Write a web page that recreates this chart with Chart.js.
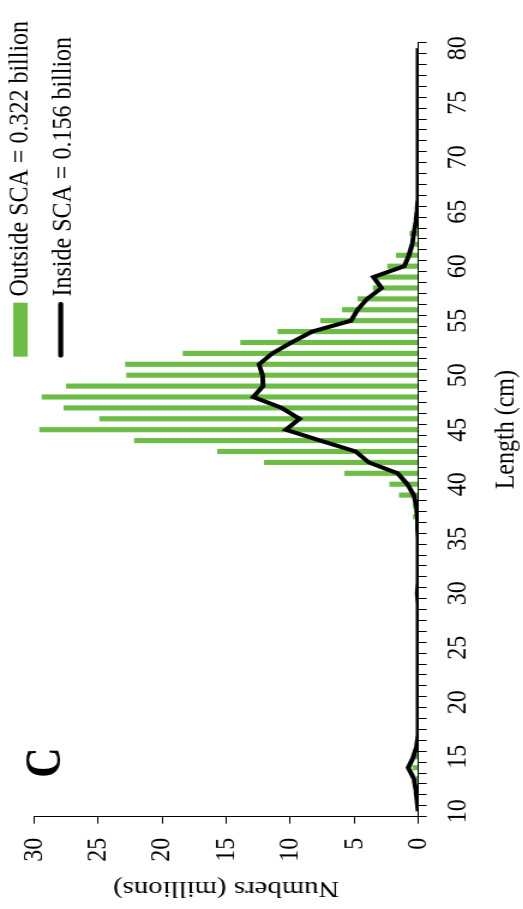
<!DOCTYPE html>
<html>
<head>
<meta charset="utf-8">
<script src="https://cdn.jsdelivr.net/npm/chart.js@4"></script>
<style>
  html, body { margin: 0; padding: 0; background: #fff; }
  #wrap { position: relative; width: 523px; height: 909px; overflow: hidden; }
  /* chart is drawn lying on its side, like the printed figure */
  #chart {
    position: absolute; left: 0; top: 0;
    transform-origin: 0 0;
    transform: translate(0px, 909px) rotate(-90deg) scale(1, 1.2);
  }
</style>
</head>
<body>
<div id="wrap"><canvas id="chart" width="909" height="436"></canvas></div>
<script>
// length classes (cm)
const lengths = [10, 11, 12, 13, 14, 15, 16, 17, 18, 19,
  20, 21, 22, 23, 24, 25, 26, 27, 28, 29,
  30, 31, 32, 33, 34, 35, 36, 37, 38, 39,
  40, 41, 42, 43, 44, 45, 46, 47, 48, 49,
  50, 51, 52, 53, 54, 55, 56, 57, 58, 59,
  60, 61, 62, 63, 64, 65, 66, 67, 68, 69,
  70, 71, 72, 73, 74, 75, 76, 77, 78, 79, 80];

// numbers (millions) outside the SCA - bars
const outsideValues = [0, 0, 0.1, 0.15, 0.45, 0.25, 0.15, 0, 0, 0,
  0, 0, 0, 0, 0, 0, 0, 0, 0, 0,
  0, 0, 0, 0, 0, 0, 0.25, 0.4, 0.43, 1.5,
  2.25, 5.76, 12.05, 15.7, 22.2, 29.6, 24.9, 27.7, 29.4, 27.5,
  22.8, 22.9, 18.4, 13.9, 11.0, 7.65, 5.96, 4.75, 3.55, 3.4,
  2.42, 1.74, 0.28, 0.68, 0.1, 0, 0, 0, 0, 0,
  0, 0, 0, 0, 0, 0, 0, 0, 0, 0, 0];

// numbers (millions) inside the SCA - line
const insideValues = [0, 0.1, 0.2, 0.35, 0.78, 0.38, 0.12, 0, 0, 0,
  0, 0, 0, 0, 0, 0, 0, 0, 0, 0,
  0.08, 0, 0, 0, 0, 0, 0.05, 0.08, 0.15, 0.35,
  0.86, 1.61, 3.87, 4.88, 7.65, 10.34, 9.28, 10.67, 12.88, 12.13,
  12.17, 12.43, 11.4, 9.9, 8.28, 5.26, 4.75, 4.0, 2.87, 3.5,
  1.1, 0.73, 0.48, 0.35, 0.2, 0.1, 0.03, 0, 0, 0,
  0, 0, 0, 0, 0, 0, 0, 0, 0, 0, 0];

const yMin = 0;
const yMax = 30;
const yStep = 5;
const xLabelStep = 5;

const outsideLabel = "Outside SCA = 0.322 billion";
const insideLabel = "Inside SCA = 0.156 billion";
const xTitle = "Length (cm)";
const yTitle = "Numbers (millions)";
const panelLetter = "C";

const green = "#6cbd45";
const serif = "'Liberation Serif', 'Times New Roman', serif";

// legend sits inside the plot, top right, plus the panel letter
const extrasPlugin = {
  id: "extras",
  afterDraw(chart) {
    const ctx = chart.ctx;
    const sets = chart.data.datasets;
    ctx.save();
    // bar entry
    ctx.fillStyle = sets[0].backgroundColor;
    ctx.fillRect(552.3, 11.1, 54, 12);
    // line entry
    ctx.strokeStyle = sets[1].borderColor;
    ctx.lineWidth = 4.2;
    ctx.lineCap = "round";
    ctx.beginPath();
    ctx.moveTo(553.5, 50.7);
    ctx.lineTo(605, 50.7);
    ctx.stroke();
    ctx.fillStyle = "#000";
    ctx.font = "24px " + serif;
    ctx.textAlign = "left";
    ctx.textBaseline = "alphabetic";
    ctx.fillText(sets[0].label, 612.5, 23.4);
    ctx.fillText(sets[1].label, 612.5, 58.8);
    // panel letter
    ctx.font = "bold 42px " + serif;
    ctx.textAlign = "center";
    ctx.fillText(panelLetter, 146.5, 49.5);
    ctx.restore();
  }
};

const ctx = document.getElementById("chart");

new Chart(ctx, {
  type: "bar",
  data: {
    labels: lengths,
    datasets: [
      {
        type: "bar",
        label: outsideLabel,
        data: outsideValues,
        backgroundColor: green,
        borderWidth: 0,
        barPercentage: 0.47,
        categoryPercentage: 1.0,
        order: 2
      },
      {
        type: "line",
        label: insideLabel,
        data: insideValues,
        borderColor: "#000",
        borderWidth: 4,
        borderJoinStyle: "miter",
        pointRadius: 0,
        tension: 0,
        fill: false,
        order: 1
      }
    ]
  },
  options: {
    responsive: false,
    animation: false,
    events: [],
    layout: { padding: { top: 17.25, right: 42.7, left: 0, bottom: 0 } },
    plugins: {
      legend: { display: false },
      tooltip: { enabled: false }
    },
    scales: {
      x: {
        grid: {
          display: true,
          drawOnChartArea: false,
          drawTicks: true,
          tickLength: 7,
          tickColor: "#000",
          tickWidth: 1
        },
        border: { display: true, color: "#000", width: 1 },
        ticks: {
          autoSkip: false,
          maxRotation: 0,
          padding: 12,
          color: "#000",
          font: { family: serif, size: 24 },
          callback: function (value) {
            const v = lengths[value];
            return v % xLabelStep === 0 ? String(v) : "";
          }
        },
        title: {
          display: true,
          text: xTitle,
          color: "#000",
          font: { family: serif, size: 24 },
          padding: { top: 0, bottom: 0 }
        },
        afterFit: function (scale) { scale.height = 87.4; }
      },
      y: {
        min: yMin,
        max: yMax,
        grid: {
          display: true,
          drawOnChartArea: false,
          drawTicks: true,
          tickLength: 7,
          tickColor: "#000",
          tickWidth: 1
        },
        border: { display: true, color: "#000", width: 1 },
        ticks: {
          stepSize: yStep,
          padding: 14,
          color: "#000",
          font: { family: serif, size: 24 }
        },
        title: {
          display: true,
          text: yTitle,
          color: "#000",
          font: { family: serif, size: 24 },
          padding: { top: 6.6, bottom: 0 }
        },
        afterFit: function (scale) { scale.width = 92.3; }
      }
    }
  },
  plugins: [extrasPlugin]
});
</script>
</body>
</html>
